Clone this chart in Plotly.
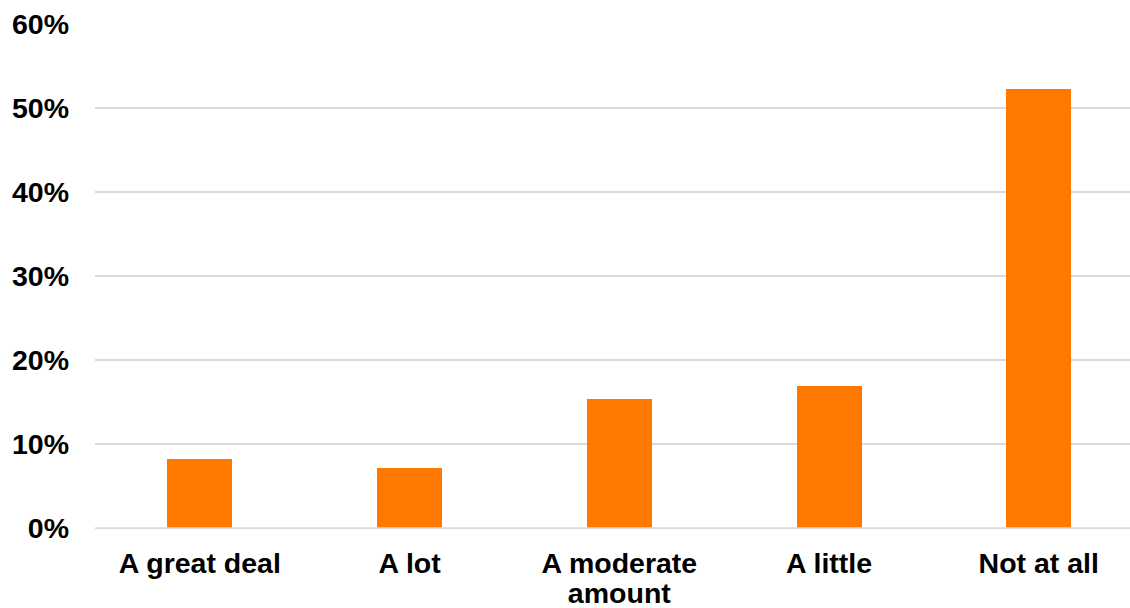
import plotly.graph_objects as go

# Survey responses (share of respondents)
label_lines = [["A great deal"], ["A lot"], ["A moderate", "amount"], ["A little"], ["Not at all"]]
shares = [0.082, 0.071, 0.154, 0.169, 0.522]

# Y axis ticks
y_ticks = [0, 0.1, 0.2, 0.3, 0.4, 0.5, 0.6]
y_tick_text = ["0%", "10%", "20%", "30%", "40%", "50%", "60%"]

categories = [" ".join(lines) for lines in label_lines]
first_lines = [lines[0] for lines in label_lines]
second_lines = [lines[1] if len(lines) > 1 else "" for lines in label_lines]

BAR = "#FF7800"
GRID = "#D9D9D9"
FONT = dict(family="Liberation Sans, Arial, sans-serif", size=28.5, color="black", weight="bold")

fig = go.Figure()
fig.add_trace(go.Bar(x=categories, y=shares, marker=dict(color=BAR, line=dict(width=0)),
                     width=0.31, showlegend=False))
# invisible trace so the secondary category axis gets drawn
fig.add_trace(go.Bar(x=categories, y=[0] * len(categories), xaxis="x2",
                     marker=dict(color="rgba(0,0,0,0)"), showlegend=False, hoverinfo="skip"))

fig.update_layout(
    width=1130, height=608,
    margin=dict(l=95, r=0, t=23, b=80),
    plot_bgcolor="white", paper_bgcolor="white",
    bargap=0,
    barmode="overlay",
    xaxis=dict(
        type="category", range=[-0.5, 4.435],
        tickmode="array", tickvals=categories, ticktext=first_lines,
        tickfont=FONT, showgrid=False, showline=False, ticks="",
        ticklabelstandoff=15,
    ),
    xaxis2=dict(
        type="category", overlaying="x", matches="x", anchor="y", side="bottom",
        tickmode="array", tickvals=categories, ticktext=second_lines,
        tickfont=FONT, showgrid=False, showline=False, ticks="",
        ticklabelstandoff=45,
    ),
    yaxis=dict(
        range=[0, 0.601], tickmode="array", tickvals=y_ticks, ticktext=y_tick_text,
        tickfont=FONT, showgrid=True, gridcolor=GRID, gridwidth=1.5,
        zeroline=True, zerolinecolor=GRID, zerolinewidth=1.5,
        showline=False, ticks="", ticklabelstandoff=25,
    ),
)

fig.write_html("out.html")
